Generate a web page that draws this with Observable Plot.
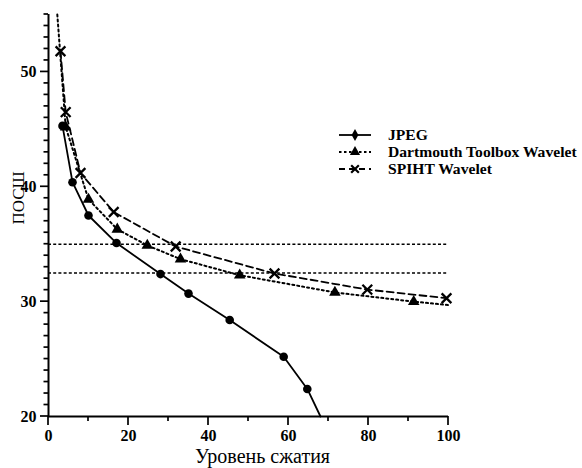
<!DOCTYPE html>
<html><head><meta charset="utf-8">
<script src="https://cdn.jsdelivr.net/npm/d3@7"></script>
<script src="https://cdn.jsdelivr.net/npm/@observablehq/plot@0.6"></script>
<style>
body{margin:0;background:#fff;}
#wrap{position:relative;width:582px;height:468px;}
#legend{position:absolute;left:0;top:0;}
</style></head><body><div id="wrap"></div>
<script>
// Data
const jpegX = [3.5, 6, 10, 17, 28, 35, 45.3, 58.8, 64.7, 68];
const jpegY = [45.3, 40.4, 37.5, 35.1, 32.4, 30.7, 28.4, 25.2, 22.4, 20];
const dartX = [2.2, 4.3, 10, 17.2, 24.7, 33, 47.8, 71.6, 91.3, 100];
const dartY = [55, 45.2, 38.9, 36.3, 34.9, 33.7, 32.3, 30.8, 30.0, 29.7];
const spihtX = [3, 4.3, 8, 16.3, 31.8, 56.5, 79.7, 99.5];
const spihtY = [51.8, 46.5, 41.2, 37.8, 34.8, 32.45, 31.05, 30.3];
const refLevels = [35, 32.5];
const xTicks = [0, 20, 40, 60, 80, 100];
const xMinor = [10, 30, 50, 70, 90];
const yTicks = [20, 30, 40, 50];
const yMinor = d3.range(21, 56, 1).filter(v => v % 10 !== 0);
const seriesNames = ["JPEG", "Dartmouth Toolbox Wavelet", "SPIHT Wavelet"];
const xTitle = "Уровень сжатия";
const yTitle = "ПОСШ";

const toPts = (xs, ys) => xs.map((x, i) => ({x, y: ys[i]}));
const jpeg = toPts(jpegX, jpegY);
const dart = toPts(dartX, dartY);
const spiht = toPts(spihtX, spihtY);

const bold = {fontWeight: "bold", fontSize: 16};

const chart = Plot.plot({
  width: 582, height: 468,
  marginLeft: 48, marginRight: 134, marginTop: 14, marginBottom: 52,
  x: {domain: [0, 100]},
  y: {domain: [20, 55]},
  style: {fontFamily: "'Liberation Serif', 'Times New Roman', serif", fontSize: "16px", color: "#000", background: "#fff", overflow: "visible"},
  marks: [
    Plot.axisY({ticks: yTicks, tickSize: 0, tickPadding: 12, label: null, ...bold}),
    Plot.axisX({ticks: xTicks, tickSize: 0, tickPadding: 13, label: null, ...bold}),
    Plot.ruleX([0], {y1: 20, y2: 55, strokeWidth: 2}),
    Plot.ruleY([20], {x1: 0, x2: 100, strokeWidth: 2}),
    Plot.ruleY(refLevels, {x1: 0, x2: 100, strokeWidth: 1.5, strokeDasharray: "3,2.2"}),
    Plot.line(jpeg, {x: "x", y: "y", strokeWidth: 1.8}),
    Plot.line(dart, {x: "x", y: "y", strokeWidth: 2, strokeDasharray: "2,3"}),
    Plot.line(spiht, {x: "x", y: "y", strokeWidth: 1.8, strokeDasharray: "7,4"}),
    Plot.dot(jpeg.filter(d => d.y > 20), {x: "x", y: "y", r: 4.3, fill: "#000", symbol: "circle"}),
    Plot.dot(dart.filter(d => d.y < 55 && d.x < 100), {x: "x", y: "y", r: 4.3, fill: "#000", symbol: "triangle"}),
    Plot.dot(spiht, {x: "x", y: "y", r: 4.5, stroke: "#000", strokeWidth: 2.3, symbol: "times"}),
    Plot.text([xTitle], {frameAnchor: "bottom", dx: 14, dy: 46, lineAnchor: "bottom", fontSize: 20}),
    Plot.text([yTitle], {frameAnchor: "left", dx: -30, dy: 9, rotate: -90, fontSize: 17})
  ]
});
const wrap = document.getElementById("wrap");
wrap.appendChild(chart);

// Tick marks: placed with Plot's own scales onto the chart's SVG
const sx = chart.scale("x"), sy = chart.scale("y");
const X = v => sx.apply(v), Y = v => sy.apply(v);
const svg = d3.select(chart);
const tg = svg.append("g").attr("stroke", "#000").attr("stroke-width", 1.7);
yMinor.forEach(v => tg.append("line").attr("x1", X(0) - 4.5).attr("x2", X(0)).attr("y1", Y(v)).attr("y2", Y(v)));
yTicks.forEach(v => tg.append("line").attr("x1", X(0) - 8).attr("x2", X(0)).attr("y1", Y(v)).attr("y2", Y(v)));
xMinor.forEach(v => tg.append("line").attr("x1", X(v)).attr("x2", X(v)).attr("y1", Y(20)).attr("y2", Y(20) + 5));
xTicks.forEach(v => tg.append("line").attr("x1", X(v)).attr("x2", X(v)).attr("y1", Y(20)).attr("y2", Y(20) + 9));

// Legend overlay
const leg = d3.select(wrap).append("svg").attr("id", "legend")
  .attr("width", 582).attr("height", 468)
  .style("font-family", "'Liberation Serif', 'Times New Roman', serif");
const legStyles = [
  {dash: null, sym: d3.symbolDiamond, size: 40, fill: "#000", stroke: "none"},
  {dash: "2.5,2.5", sym: d3.symbolTriangle, size: 45, fill: "#000", stroke: "none"},
  {dash: "6,4", sym: d3.symbolTimes, size: 40, fill: "none", stroke: "#000"}
];
seriesNames.forEach((name, i) => {
  const y0 = 135 + i * 17;
  const s = legStyles[i];
  const g = leg.append("g").attr("transform", `translate(0,${y0})`);
  g.append("line").attr("x1", 339).attr("x2", 371).attr("y1", 0).attr("y2", 0)
    .attr("stroke", "#000").attr("stroke-width", 1.8)
    .attr("stroke-dasharray", s.dash);
  g.append("path").attr("d", d3.symbol(s.sym, s.size)())
    .attr("transform", "translate(355,0)")
    .attr("fill", s.fill).attr("stroke", s.stroke).attr("stroke-width", 2.2);
  g.append("text").attr("x", 388).attr("y", 5).attr("font-size", 15.6).attr("font-weight", "bold").text(name);
});
</script></body></html>
